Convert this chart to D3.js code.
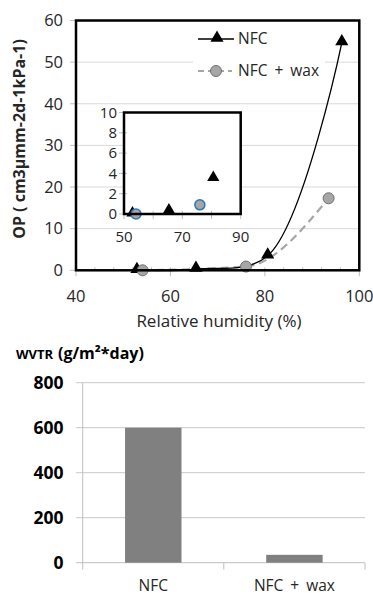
<!DOCTYPE html>
<html>
<head>
<meta charset="utf-8">
<script src="https://cdn.jsdelivr.net/npm/d3@7"></script>
<style>
  body { margin: 0; background: #fff; }
  svg { display: block; font-family: "Open Sans", sans-serif; }
</style>
</head>
<body>
<div id="chart"></div>
<script>
// top chart: oxygen permeability vs humidity
let rhNFC = [52.9, 65.4, 80.6, 96.3];
let opNFC = [0, 0.3, 3.5, 54.7];
let rhWax = [54.1, 76, 93.5];
let opWax = [0, 0.9, 17.3];
let opTicks = [0, 10, 20, 30, 40, 50, 60];
let rhTicks = [40, 60, 80, 100];
let insetYTicks = [0, 2, 4, 6, 8, 10];
let insetXTicks = [50, 70, 90];

// bottom chart: WVTR
let samples = ["NFC", "NFC + wax"];
let wvtr = [600, 35];
let wvtrTicks = [0, 200, 400, 600, 800];

let svgWidth = 373;
let svgHeight = 597;
let txt = "#262626";

var svg = d3.select("#chart")
  .append("svg")
  .attr("width", svgWidth)
  .attr("height", svgHeight);

let nfcData = rhNFC.map((d, i) => ({x: d, y: opNFC[i]}));
let waxData = rhWax.map((d, i) => ({x: d, y: opWax[i]}));

// ================= top chart =================
let xScale = d3.scaleLinear().domain([40, 100]).range([76, 359.3]);
let yScale = d3.scaleLinear().domain([0, 60]).range([270.3, 20.5]);

let opChart = svg.append("g");

// gridlines
opChart.selectAll(".grid")
  .data(opTicks.slice(1, -1))
  .enter()
  .append("line")
  .attr("x1", xScale(40)).attr("x2", xScale(100))
  .attr("y1", d => yScale(d)).attr("y2", d => yScale(d))
  .attr("stroke", "#d9d9d9").attr("stroke-width", 1);

// y ticks + labels
opChart.selectAll(".ytick")
  .data(opTicks)
  .enter()
  .append("line")
  .attr("x1", xScale(40) - 6).attr("x2", xScale(40))
  .attr("y1", d => yScale(d)).attr("y2", d => yScale(d))
  .attr("stroke", "#bfbfbf");

opChart.selectAll(".ylab")
  .data(opTicks)
  .enter()
  .append("text")
  .attr("x", 63)
  .attr("y", d => yScale(d))
  .attr("dy", "0.35em")
  .attr("text-anchor", "end")
  .attr("font-size", 16.5)
  .attr("fill", txt)
  .text(d => d);

// x ticks: major outside, minor inside
opChart.selectAll(".xtick")
  .data(rhTicks)
  .enter()
  .append("line")
  .attr("x1", d => xScale(d)).attr("x2", d => xScale(d))
  .attr("y1", yScale(0)).attr("y2", yScale(0) + 6)
  .attr("stroke", "#bfbfbf");

opChart.selectAll(".xminor")
  .data(d3.range(44, 100, 4))
  .enter()
  .append("line")
  .attr("x1", d => xScale(d)).attr("x2", d => xScale(d))
  .attr("y1", yScale(0)).attr("y2", yScale(0) - 3)
  .attr("stroke", "#bfbfbf");

opChart.selectAll(".xlab")
  .data(rhTicks)
  .enter()
  .append("text")
  .attr("x", d => xScale(d))
  .attr("y", 301.5)
  .attr("text-anchor", "middle")
  .attr("font-size", 16.5)
  .attr("fill", txt)
  .text(d => d);

// axis titles
opChart.append("text")
  .attr("x", 219)
  .attr("y", 327)
  .attr("text-anchor", "middle")
  .attr("font-size", 17)
  .attr("fill", txt)
  .text("Relative humidity (%)");

opChart.append("text")
  .attr("transform", "translate(25, 139) rotate(-90)")
  .attr("text-anchor", "middle")
  .attr("font-size", 16)
  .attr("font-weight", "bold")
  .attr("fill", txt)
  .text("OP ( cm3μmm-2d-1kPa-1)");

// legend background
opChart.append("rect")
  .attr("x", 193).attr("y", 24)
  .attr("width", 132).attr("height", 62)
  .attr("fill", "#fff");

// lines
let line = d3.line()
  .x(d => xScale(d.x))
  .y(d => yScale(d.y));

opChart.append("path")
  .attr("d", line.curve(d3.curveMonotoneX)(waxData))
  .attr("fill", "none")
  .attr("stroke", "#a6a6a6")
  .attr("stroke-width", 2.2)
  .attr("stroke-dasharray", "8,5");

opChart.append("path")
  .attr("d", line.curve(d3.curveCatmullRom.alpha(0.5))(nfcData))
  .attr("fill", "none")
  .attr("stroke", "#000")
  .attr("stroke-width", 1.3);

let tri = d3.symbol().type(d3.symbolTriangle).size(75);

opChart.selectAll(".tri")
  .data(nfcData)
  .enter()
  .append("path")
  .attr("d", tri)
  .attr("transform", d => `translate(${xScale(d.x)}, ${yScale(d.y) - 1})`)
  .attr("fill", "#000");

opChart.selectAll(".dot")
  .data(waxData)
  .enter()
  .append("circle")
  .attr("cx", d => xScale(d.x))
  .attr("cy", d => yScale(d.y))
  .attr("r", 5.5)
  .attr("fill", "#a6a6a6")
  .attr("stroke", "#6f6f6f")
  .attr("stroke-width", 1);

// frame
opChart.append("rect")
  .attr("x", xScale(40)).attr("y", yScale(60))
  .attr("width", xScale(100) - xScale(40))
  .attr("height", yScale(0) - yScale(60))
  .attr("fill", "none")
  .attr("stroke", "#000")
  .attr("stroke-width", 2.5);

// legend
let legend = opChart.append("g");
legend.append("line")
  .attr("x1", 198).attr("x2", 234).attr("y1", 39).attr("y2", 39)
  .attr("stroke", "#000").attr("stroke-width", 1.3);
legend.append("path")
  .attr("d", tri)
  .attr("transform", "translate(217, 38)")
  .attr("fill", "#000");
legend.append("text")
  .attr("x", 238).attr("y", 39).attr("dy", "0.35em")
  .attr("font-size", 15.5).attr("fill", txt)
  .text("NFC");

legend.append("line")
  .attr("x1", 198).attr("x2", 232).attr("y1", 71).attr("y2", 71)
  .attr("stroke", "#a6a6a6").attr("stroke-width", 2.2)
  .attr("stroke-dasharray", "6,4");
legend.append("circle")
  .attr("cx", 216).attr("cy", 71).attr("r", 5.5)
  .attr("fill", "#a6a6a6").attr("stroke", "#6f6f6f");
legend.append("text")
  .attr("x", 238).attr("y", 71).attr("dy", "0.35em")
  .attr("font-size", 15.5).attr("word-spacing", 3).attr("fill", txt)
  .text("NFC + wax");

// ---- inset ----
let ixScale = d3.scaleLinear().domain([50, 90]).range([124, 240.7]);
let iyScale = d3.scaleLinear().domain([0, 10]).range([214, 112.5]);
let inset = opChart.append("g");

inset.append("rect")
  .attr("x", ixScale(50)).attr("y", iyScale(10))
  .attr("width", ixScale(90) - ixScale(50))
  .attr("height", iyScale(0) - iyScale(10))
  .attr("fill", "#fff");

inset.selectAll(".iyt")
  .data(insetYTicks)
  .enter()
  .append("line")
  .attr("x1", ixScale(50) - 5).attr("x2", ixScale(50) + 3)
  .attr("y1", d => iyScale(d)).attr("y2", d => iyScale(d))
  .attr("stroke", "#bfbfbf");

inset.selectAll(".ixt")
  .data(d3.range(50, 91, 10))
  .enter()
  .append("line")
  .attr("x1", d => ixScale(d)).attr("x2", d => ixScale(d))
  .attr("y1", iyScale(0) - 3).attr("y2", iyScale(0) + 5)
  .attr("stroke", "#bfbfbf");

inset.selectAll(".iyl")
  .data(insetYTicks)
  .enter()
  .append("text")
  .attr("x", 117)
  .attr("y", d => iyScale(d))
  .attr("dy", "0.35em")
  .attr("text-anchor", "end")
  .attr("font-size", 15)
  .attr("fill", txt)
  .text(d => d);

inset.selectAll(".ixl")
  .data(insetXTicks)
  .enter()
  .append("text")
  .attr("x", d => ixScale(d))
  .attr("y", 241.5)
  .attr("text-anchor", "middle")
  .attr("font-size", 15)
  .attr("fill", txt)
  .text(d => d);

let inView = d => d.x >= 50 && d.x <= 90 && d.y <= 10;

inset.selectAll(".itri")
  .data(nfcData.filter(inView))
  .enter()
  .append("path")
  .attr("d", d3.symbol().type(d3.symbolTriangle).size(65))
  .attr("transform", d => `translate(${ixScale(d.x)}, ${iyScale(d.y) - 1})`)
  .attr("fill", "#000");

inset.selectAll(".idot")
  .data(waxData.filter(inView))
  .enter()
  .append("circle")
  .attr("cx", d => ixScale(d.x))
  .attr("cy", d => iyScale(d.y))
  .attr("r", 5)
  .attr("fill", "#a6a6a6")
  .attr("stroke", "#2e75b6")
  .attr("stroke-width", 1.5);

inset.append("rect")
  .attr("x", ixScale(50)).attr("y", iyScale(10))
  .attr("width", ixScale(90) - ixScale(50))
  .attr("height", iyScale(0) - iyScale(10))
  .attr("fill", "none")
  .attr("stroke", "#000")
  .attr("stroke-width", 2.5);

// ================= bottom chart =================
let bx = d3.scaleBand().domain(samples).range([82.7, 365]).paddingInner(0.6).paddingOuter(0.3);
let by = d3.scaleLinear().domain([0, 800]).range([562.7, 382.7]);
let wvtrChart = svg.append("g");

wvtrChart.selectAll(".bgrid")
  .data(wvtrTicks.slice(1))
  .enter()
  .append("line")
  .attr("x1", 76).attr("x2", 365)
  .attr("y1", d => by(d)).attr("y2", d => by(d))
  .attr("stroke", "#c8c8c8");

wvtrChart.append("line")
  .attr("x1", 82.7).attr("x2", 82.7)
  .attr("y1", by(800)).attr("y2", by(0))
  .attr("stroke", "#bfbfbf");

wvtrChart.append("line")
  .attr("x1", 76).attr("x2", 365)
  .attr("y1", by(0)).attr("y2", by(0))
  .attr("stroke", "#bfbfbf");

wvtrChart.selectAll(".bxt")
  .data([82.7, 223.8, 365])
  .enter()
  .append("line")
  .attr("x1", d => d).attr("x2", d => d)
  .attr("y1", by(0)).attr("y2", by(0) + 7)
  .attr("stroke", "#bfbfbf");

wvtrChart.selectAll(".bar")
  .data(wvtr)
  .enter()
  .append("rect")
  .attr("x", (d, i) => bx(samples[i]))
  .attr("y", d => by(d))
  .attr("width", bx.bandwidth())
  .attr("height", d => by(0) - by(d))
  .attr("fill", "#808080");

wvtrChart.selectAll(".bylab")
  .data(wvtrTicks)
  .enter()
  .append("text")
  .attr("x", 63.5)
  .attr("y", d => by(d))
  .attr("dy", "0.35em")
  .attr("text-anchor", "end")
  .attr("font-size", 17.5)
  .attr("font-weight", "bold")
  .attr("fill", "#000")
  .text(d => d);

wvtrChart.selectAll(".bxlab")
  .data(samples)
  .enter()
  .append("text")
  .attr("x", d => bx(d) + bx.bandwidth() / 2)
  .attr("y", 586)
  .attr("dy", "0.35em")
  .attr("text-anchor", "middle")
  .attr("font-size", 15.5)
  .attr("word-spacing", 3)
  .attr("fill", txt)
  .text(d => d);

wvtrChart.append("text")
  .attr("x", 16)
  .attr("y", 359)
  .attr("font-weight", "bold")
  .attr("font-size", 13)
  .attr("fill", "#000")
  .text("WVTR");

wvtrChart.append("text")
  .attr("x", 58)
  .attr("y", 359)
  .attr("font-weight", "bold")
  .attr("font-size", 16)
  .attr("fill", "#000")
  .text("(g/m²*day)");
</script>
</body>
</html>
